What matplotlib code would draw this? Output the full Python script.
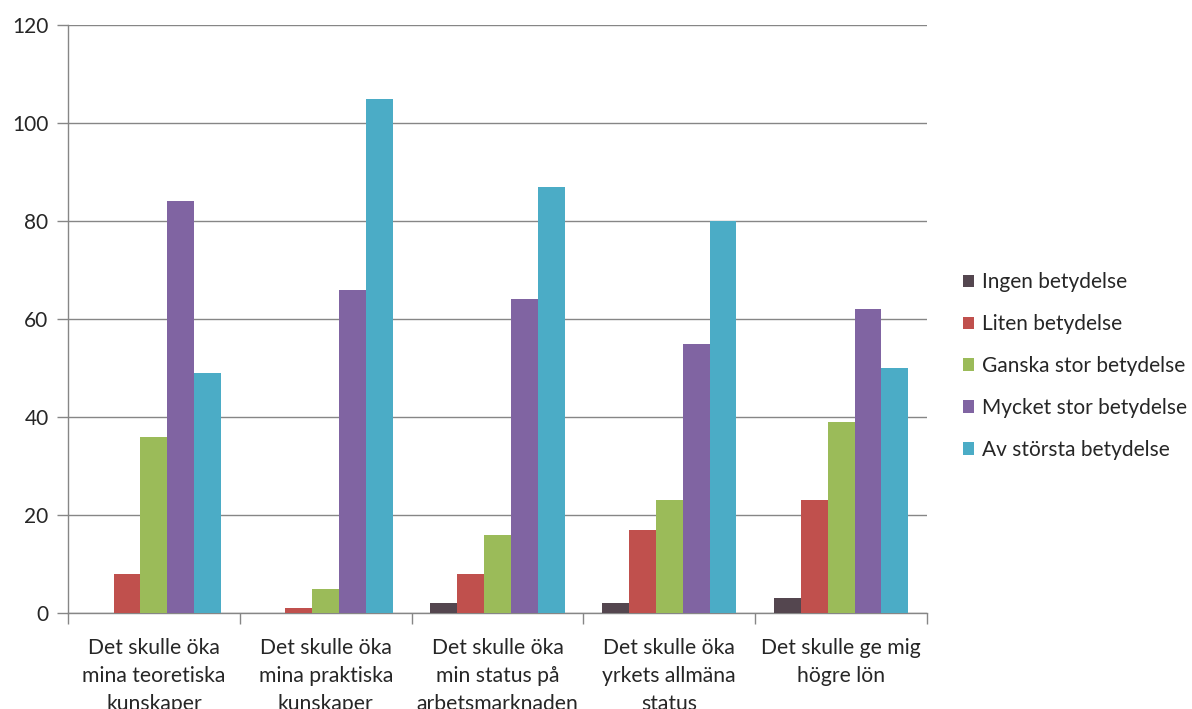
import numpy as np
import matplotlib
matplotlib.use("Agg")
import matplotlib.pyplot as plt
from matplotlib.ticker import FixedLocator

plt.rcParams["font.family"] = ["Lato", "DejaVu Sans"]

# ── data ─────────────────────────────────────────────
categories = [
    "Det skulle öka\nmina teoretiska\nkunskaper",
    "Det skulle öka\nmina praktiska\nkunskaper",
    "Det skulle öka\nmin status på\narbetsmarknaden",
    "Det skulle öka\nyrkets allmäna\nstatus",
    "Det skulle ge mig\nhögre lön",
]
series_names = [
    "Ingen betydelse",
    "Liten betydelse",
    "Ganska stor betydelse",
    "Mycket stor betydelse",
    "Av största betydelse",
]
ingen   = [0, 0, 2, 2, 3]
liten   = [8, 1, 8, 17, 23]
ganska  = [36, 5, 16, 23, 39]
mycket  = [84, 66, 64, 55, 62]
storsta = [49, 105, 87, 80, 50]
y_ticks = [0, 20, 40, 60, 80, 100, 120]

colors = ["#54464F", "#C0504D", "#9BBB59", "#8064A2", "#4BACC6"]

# ── plot ─────────────────────────────────────────────
fig = plt.figure(figsize=(11.92, 7.09), dpi=100)
ax = fig.add_axes([68 / 1192, 1 - 613 / 709, (927 - 68) / 1192, (613 - 25) / 709])

x = np.arange(len(categories))
bw = 0.156
for i, (vals, name) in enumerate(zip([ingen, liten, ganska, mycket, storsta], series_names)):
    ax.bar(x + (i - 2) * bw, vals, width=bw, color=colors[i], label=name, zorder=3)

ax.set_xlim(-0.5, len(categories) - 0.5)
ax.set_ylim(0, 120)
ax.set_yticks(y_ticks)
ax.yaxis.grid(True, color="#868686", linewidth=1, zorder=0)

for s in ["top", "right"]:
    ax.spines[s].set_visible(False)
for s in ["left", "bottom"]:
    ax.spines[s].set_color("#868686")
    ax.spines[s].set_linewidth(1)

# kategorietiketter centrerade, streck mellan grupperna
ax.set_xticks(x)
ax.set_xticklabels(categories, fontsize=15.2, color="#262626", linespacing=1.5)
ax.tick_params(axis="x", length=0, pad=18)
ax.xaxis.set_minor_locator(FixedLocator(np.arange(-0.5, len(categories), 1.0)))
ax.tick_params(axis="x", which="minor", length=8, color="#868686", width=1)
ax.tick_params(axis="y", length=8, color="#868686", width=1, labelsize=15,
               labelcolor="#262626", pad=6)

leg = ax.legend(loc="center left", bbox_to_anchor=(1.02, 0.42), frameon=False,
                fontsize=15, handlelength=0.55, handleheight=0.55, handletextpad=0.35,
                labelspacing=1.05, labelcolor="#262626")

fig.savefig("out.png", dpi=100)
